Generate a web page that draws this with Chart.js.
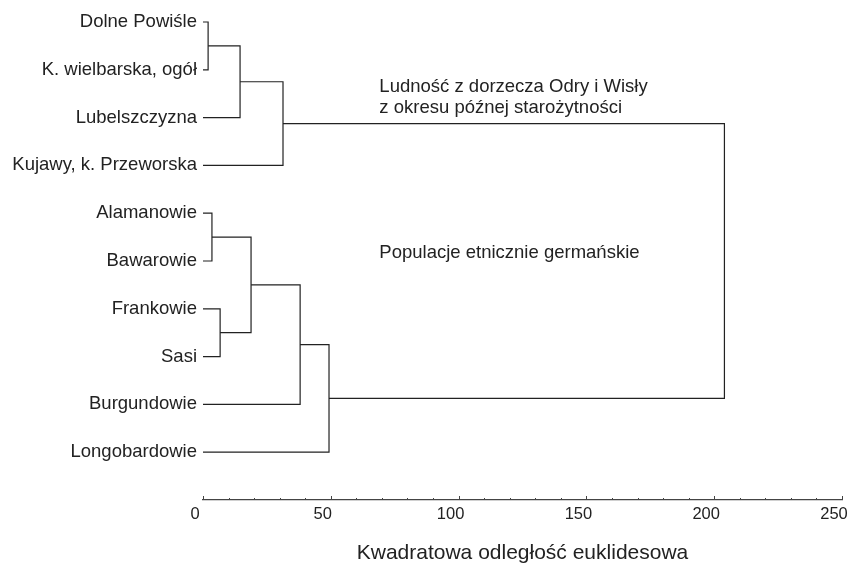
<!DOCTYPE html>
<html>
<head>
<meta charset="utf-8">
<script src="https://cdn.jsdelivr.net/npm/chart.js@4/dist/chart.umd.min.js"></script>
<style>
  html, body { margin: 0; padding: 0; background: #fff; }
  #wrap { width: 848px; height: 564px; }
</style>
</head>
<body>
<div id="wrap"><canvas id="chart"></canvas></div>
<script>
// leaves, top to bottom
const leafLabels = [
  "Dolne Powiśle",
  "K. wielbarska, ogół",
  "Lubelszczyzna",
  "Kujawy, k. Przeworska",
  "Alamanowie",
  "Bawarowie",
  "Frankowie",
  "Sasi",
  "Burgundowie",
  "Longobardowie",
];

// linkage: node ids 0-9 are leaves, each merge makes node 10, 11, ...
const mergeA = [0, 10, 11, 4, 6, 13, 15, 16, 12];
const mergeB = [1, 2, 3, 5, 7, 14, 8, 9, 17];
const mergeHeight = [2, 14.5, 31.3, 3.5, 6.7, 18.8, 38, 49.3, 204];

const xTickLabels = ["0", "50", "100", "150", "200", "250"];
const xTitle = "Kwadratowa odległość euklidesowa";

// group labels, anchored in data units (distance, leaf row)
const groupNotes = [
  { text: "Ludność z dorzecza Odry i Wisły", x: 69, y: 1.36 },
  { text: "z okresu późnej starożytności", x: 69, y: 1.8 },
  { text: "Populacje etnicznie germańskie", x: 69, y: 4.83 },
];

const font = "'Liberation Sans', Arial, sans-serif";
const ink = "#222";

// node positions from the linkage
const nodeY = leafLabels.map((_, i) => i);
const nodeH = leafLabels.map(() => 0);
const datasets = [];
mergeA.forEach(function (a, i) {
  const b = mergeB[i];
  const h = mergeHeight[i];
  datasets.push({
    data: [
      { x: nodeH[a], y: nodeY[a] },
      { x: h, y: nodeY[a] },
      { x: h, y: nodeY[b] },
      { x: nodeH[b], y: nodeY[b] },
    ],
    borderColor: ink,
    borderWidth: 1.2,
    pointRadius: 0,
    fill: false,
    tension: 0,
  });
  nodeY.push((nodeY[a] + nodeY[b]) / 2);
  nodeH.push(h);
});

const tickMarks = {
  id: "tickMarks",
  afterDraw(chart) {
    const x = chart.scales.x;
    const ctx = chart.ctx;
    const yb = chart.chartArea.bottom;
    ctx.save();
    ctx.strokeStyle = "#444";
    ctx.lineWidth = 1;
    x.ticks.forEach(function (t) {
      const px = Math.round(x.getPixelForValue(t.value)) + 0.5;
      const len = t.value % 50 === 0 ? 4 : 2;
      ctx.beginPath();
      ctx.moveTo(px, yb);
      ctx.lineTo(px, yb - len);
      ctx.stroke();
    });
    ctx.restore();
  },
};

const notes = {
  id: "notes",
  afterDraw(chart) {
    const { x, y } = chart.scales;
    const ctx = chart.ctx;
    ctx.save();
    ctx.fillStyle = ink;
    ctx.font = "18.5px " + font;
    ctx.textAlign = "left";
    ctx.textBaseline = "middle";
    groupNotes.forEach(function (n) {
      ctx.fillText(n.text, x.getPixelForValue(n.x), y.getPixelForValue(n.y));
    });
    ctx.restore();
  },
};

new Chart(document.getElementById("chart").getContext("2d"), {
  type: "line",
  data: { datasets: datasets },
  plugins: [tickMarks, notes],
  options: {
    responsive: true,
    maintainAspectRatio: false,
    animation: false,
    events: [],
    layout: { padding: { left: 0, top: 0, bottom: 0, right: 6 } },
    plugins: { legend: { display: false }, tooltip: { enabled: false } },
    scales: {
      x: {
        type: "linear",
        min: 0,
        max: 250,
        grid: { display: false, drawTicks: false },
        border: { display: true, color: "#444", width: 1.3 },
        ticks: {
          stepSize: 10,
          autoSkip: false,
          maxRotation: 0,
          padding: 5,
          labelOffset: -8,
          color: ink,
          font: { family: font, size: 16.5 },
          callback: function (value) {
            return value % 50 === 0 ? xTickLabels[value / 50] : "";
          },
        },
        title: {
          display: true,
          text: xTitle,
          color: ink,
          padding: 0,
          font: { family: font, size: 21, lineHeight: 1 },
        },
        afterFit: function (s) {
          s.height = 64;
          s.paddingLeft = 0;
          s.paddingRight = 0;
        },
      },
      y: {
        type: "linear",
        reverse: true,
        min: -0.46,
        max: 10.0,
        grid: { display: false, drawTicks: false },
        border: { display: false },
        afterBuildTicks: function (s) {
          s.ticks = leafLabels.map((_, i) => ({ value: i }));
        },
        ticks: {
          autoSkip: false,
          padding: 6,
          color: ink,
          font: { family: font, size: 18.5 },
          callback: function (value) {
            return leafLabels[value];
          },
        },
        afterFit: function (s) {
          s.width = 203;
          s.paddingTop = 0;
          s.paddingBottom = 0;
        },
      },
    },
  },
});
</script>
</body>
</html>
